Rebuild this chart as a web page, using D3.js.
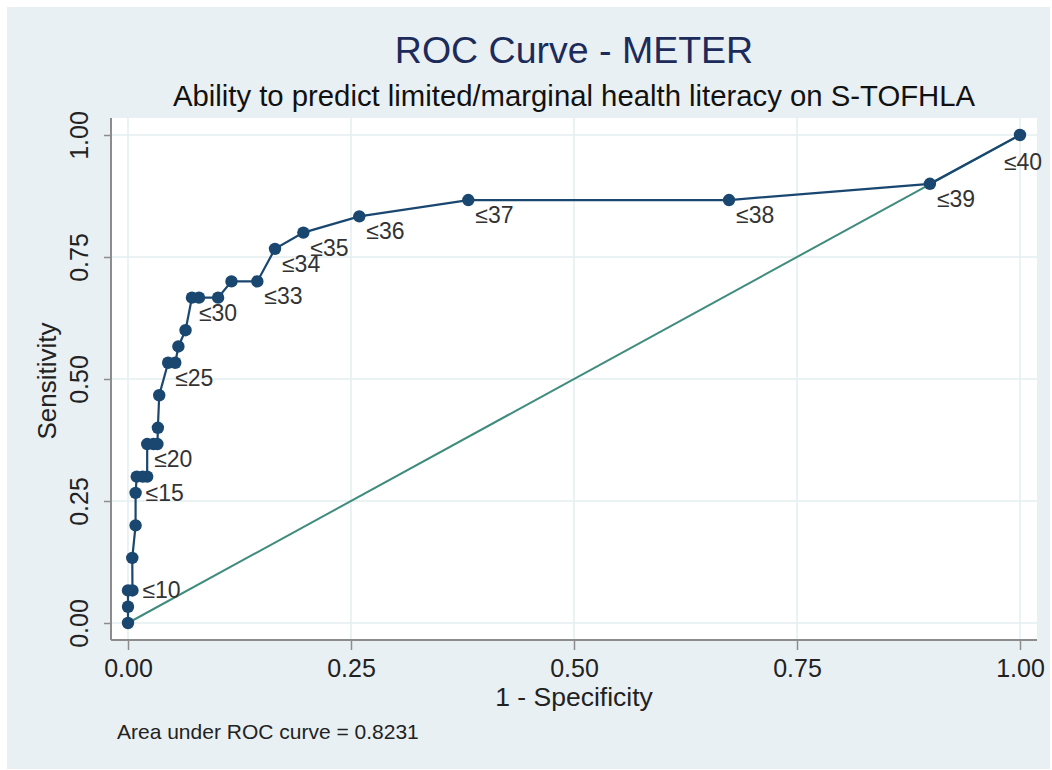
<!DOCTYPE html>
<html lang="en">
<head>
  <meta charset="UTF-8">
  <title>ROC Curve - METER</title>
  <script src="https://d3js.org/d3.v7.min.js"></script>
  <style>
    body { margin: 0; padding: 0; overflow: hidden; background: #fff; }
    text { font-family: "Liberation Sans", Arial, Helvetica, sans-serif; }
  </style>
</head>
<body>
  <svg id="chart" width="1052" height="770"></svg>

  <script>
    // Data: 1 - specificity and sensitivity per cutoff
    const fpr = [0, 0, 0, 0.005, 0.0048, 0.0085, 0.0085, 0.0098, 0.0165, 0.0215,
                 0.0215, 0.0285, 0.033, 0.0335, 0.035, 0.045, 0.053, 0.0565, 0.0645,
                 0.0717, 0.0796, 0.101, 0.116, 0.145, 0.1648, 0.1966, 0.2593,
                 0.3815, 0.6738, 0.899, 1];
    const tpr = [0, 0.0333, 0.0667, 0.0667, 0.1333, 0.2, 0.2667, 0.3, 0.3, 0.3,
                 0.3667, 0.3667, 0.3667, 0.4, 0.4667, 0.5333, 0.5333, 0.5667, 0.6,
                 0.6667, 0.6667, 0.6667, 0.7, 0.7, 0.7667, 0.8, 0.8333,
                 0.8667, 0.8667, 0.9, 1];
    const cutLabels = ["", "", "", "≤10", "", "", "≤15", "", "", "",
                       "≤20", "", "", "", "", "≤25", "", "", "",
                       "≤30", "", "", "", "≤33", "≤34", "≤35", "≤36",
                       "≤37", "≤38", "≤39", "≤40"];
    const tickValues = [0, 0.25, 0.5, 0.75, 1];
    const titleText = "ROC Curve - METER";
    const subtitleText = "Ability to predict limited/marginal health literacy on S-TOFHLA";
    const xTitle = "1 - Specificity";
    const yTitle = "Sensitivity";
    const noteText = "Area under ROC curve = 0.8231";

    const points = fpr.map((f, i) => ({ x: f, y: tpr[i], label: cutLabels[i] }));

    const svg = d3.select("#chart");

    // outer graph region
    svg.append("rect")
      .attr("x", 7).attr("y", 7)
      .attr("width", 1043).attr("height", 762)
      .attr("fill", "#e9f0f3");

    // plot region
    const plot = { left: 111, right: 1037, top: 118, bottom: 640 };
    svg.append("rect")
      .attr("x", plot.left).attr("y", plot.top)
      .attr("width", plot.right - plot.left)
      .attr("height", plot.bottom - plot.top)
      .attr("fill", "#fff");

    const x = d3.scaleLinear().domain([0, 1]).range([128, 1020]);
    const y = d3.scaleLinear().domain([0, 1]).range([623, 135]);

    // grid lines
    const grid = svg.append("g").attr("stroke", "#e4eef0").attr("stroke-width", 1.5);
    grid.selectAll(".gx").data(tickValues).join("line")
      .attr("x1", d => x(d)).attr("x2", d => x(d))
      .attr("y1", plot.top).attr("y2", plot.bottom);
    grid.selectAll(".gy").data(tickValues).join("line")
      .attr("y1", d => y(d)).attr("y2", d => y(d))
      .attr("x1", plot.left).attr("x2", plot.right);

    // axes
    const xAxis = svg.append("g")
      .attr("transform", `translate(0,${plot.bottom})`)
      .call(d3.axisBottom(x).tickValues(tickValues).tickFormat(d3.format(".2f")).tickSize(10).tickSizeOuter(0));
    const yAxis = svg.append("g")
      .attr("transform", `translate(${plot.left},0)`)
      .call(d3.axisLeft(y).tickValues(tickValues).tickFormat(d3.format(".2f")).tickSize(7).tickSizeOuter(0));

    [xAxis, yAxis].forEach(g => {
      g.select(".domain").remove();
      g.selectAll(".tick line").attr("stroke", "#8c8c8c").attr("stroke-width", 1.5);
      g.selectAll(".tick text")
        .attr("fill", "#222")
        .style("font-size", "25px")
        .style("font-family", "'Liberation Sans', Arial, Helvetica, sans-serif");
    });
    xAxis.selectAll(".tick text").attr("y", 37).attr("dy", 0);
    yAxis.selectAll(".tick text")
      .attr("transform", "rotate(-90)")
      .attr("x", 0).attr("y", -23).attr("dy", 0)
      .attr("text-anchor", "middle");

    svg.append("line")
      .attr("x1", plot.left).attr("x2", plot.left)
      .attr("y1", plot.top).attr("y2", plot.bottom)
      .attr("stroke", "#8c8c8c").attr("stroke-width", 2);
    svg.append("line")
      .attr("x1", plot.left).attr("x2", plot.right)
      .attr("y1", plot.bottom).attr("y2", plot.bottom)
      .attr("stroke", "#8c8c8c").attr("stroke-width", 2);

    // reference line
    svg.append("line")
      .attr("x1", x(0)).attr("y1", y(0))
      .attr("x2", x(1)).attr("y2", y(1))
      .attr("stroke", "#3f8c7c").attr("stroke-width", 2);

    // ROC curve
    const line = d3.line().x(d => x(d.x)).y(d => y(d.y));
    svg.append("path")
      .datum(points)
      .attr("d", line)
      .attr("fill", "none")
      .attr("stroke", "#1a476f")
      .attr("stroke-width", 2.2);

    svg.append("g").selectAll("circle")
      .data(points)
      .join("circle")
      .attr("cx", d => x(d.x))
      .attr("cy", d => y(d.y))
      .attr("r", 6.2)
      .attr("fill", "#1a476f");

    // marker labels (clock position 4 by default)
    function labelPos(d) {
      if (d.label === "≤10" || d.label === "≤15") return { dx: 10, dy: 8, anchor: "start" };
      if (d.label === "≤40") return { dx: 3, dy: 35, anchor: "middle" };
      return { dx: 7, dy: 23, anchor: "start" };
    }
    svg.append("g").selectAll("text")
      .data(points.filter(d => d.label))
      .join("text")
      .attr("x", d => x(d.x) + labelPos(d).dx)
      .attr("y", d => y(d.y) + labelPos(d).dy)
      .attr("text-anchor", d => labelPos(d).anchor)
      .attr("fill", "#333")
      .style("font-size", "23px")
      .text(d => d.label);

    // titles
    svg.append("text")
      .attr("x", 574).attr("y", 63)
      .attr("text-anchor", "middle")
      .attr("fill", "#1c2b5a")
      .style("font-size", "37.5px")
      .text(titleText);
    svg.append("text")
      .attr("x", 574).attr("y", 106)
      .attr("text-anchor", "middle")
      .attr("fill", "#111")
      .style("font-size", "29.3px")
      .text(subtitleText);

    svg.append("text")
      .attr("x", 574).attr("y", 706)
      .attr("text-anchor", "middle")
      .attr("fill", "#222")
      .style("font-size", "26.5px")
      .text(xTitle);
    svg.append("text")
      .attr("transform", "translate(56,381) rotate(-90)")
      .attr("text-anchor", "middle")
      .attr("fill", "#222")
      .style("font-size", "26px")
      .text(yTitle);

    svg.append("text")
      .attr("x", 117).attr("y", 739)
      .attr("fill", "#222")
      .style("font-size", "21px")
      .text(noteText);
  </script>
</body>
</html>
